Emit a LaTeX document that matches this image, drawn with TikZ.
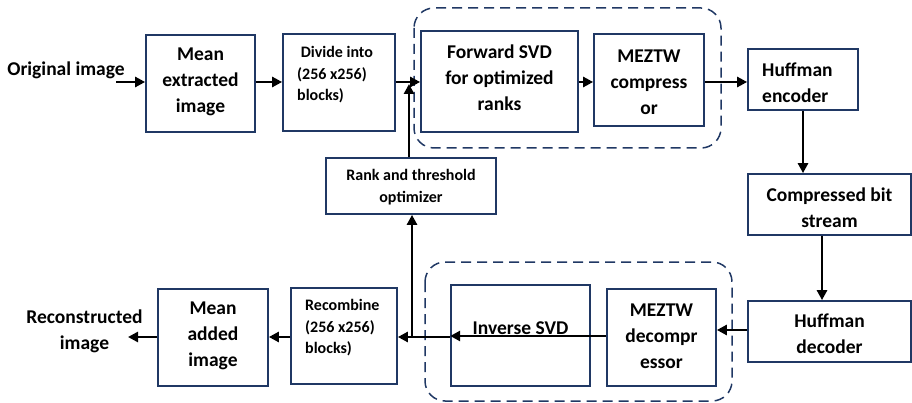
\documentclass[tikz,border=0pt]{standalone}
\usepackage{fontspec}
\setmainfont{Carlito}
\usetikzlibrary{arrows.meta}
\definecolor{navy}{HTML}{203864}
\tikzset{
  box/.style={draw=navy, line width=1.7pt, rectangle, inner sep=0pt},
  big/.style={font=\fontsize{19.5}{26}\selectfont\bfseries, align=center, inner sep=0pt},
  small/.style={font=\fontsize{16}{21.5}\selectfont\bfseries, inner sep=0pt},
  flow/.style={line width=2.8pt, -{Triangle[length=10pt,width=10pt]}},
  group/.style={draw=navy, line width=1.5pt, dash pattern=on 10pt off 6pt, rounded corners=20pt}
}
\begin{document}
\begin{tikzpicture}[x=1pt, y=-1pt]
\useasboundingbox (0,0) rectangle (912,403);

% dashed groups
\draw[group] (414,8) rectangle (721,148);
\draw[group] (425,262) rectangle (732,401);

% frames
\node[box, minimum width=109pt, minimum height=97pt] (me) at (200.5,83.5) {};
\node[box, minimum width=112pt, minimum height=97pt] (dv) at (339,82.5) {};
\node[box, minimum width=157pt, minimum height=101pt] (fs) at (499.5,81.5) {};
\node[box, minimum width=110pt, minimum height=92pt] (mz) at (649,80) {};
\node[box, minimum width=110pt, minimum height=61pt] (he) at (803,79.5) {};
\node[box, minimum width=163pt, minimum height=61pt] (cb) at (829.5,204.5) {};
\node[box, minimum width=163pt, minimum height=61pt] (hd) at (829.5,331.5) {};
\node[box, minimum width=109pt, minimum height=97pt] (md) at (661.5,337.5) {};
\node[box, minimum width=139pt, minimum height=101pt] (iv) at (520.5,335.5) {};
\node[box, minimum width=106pt, minimum height=96pt] (rc) at (344,336) {};
\node[box, minimum width=110pt, minimum height=97pt] (ma) at (213,337.5) {};
\node[box, minimum width=170pt, minimum height=56pt] (op) at (411,186) {};

% texts
\node[big] (orig) at (66,70) {Original image};
\node[big] (rec) at (84.5,331) {Reconstructed\\image};
\node[big] (me-t) at (200.5,82) {Mean\\extracted\\image};
\node[small, align=left, anchor=west] (dv-t) at (297,75) {\ Divide into\\(256 x256)\\blocks)};
\node[big] (fs-t) at (499.5,78) {Forward SVD\\for optimized\\ranks};
\node[big] (mz-t) at (649,82) {MEZTW\\compress\\or};
\node[big, align=left, anchor=west] (he-t) at (762,82.5) {Huffman\\encoder};
\node[big] (cb-t) at (829.5,207.5) {Compressed bit\\stream};
\node[big] (hd-t) at (829.5,334) {Huffman\\decoder};
\node[big] (md-t) at (661.5,336) {MEZTW\\decompr\\essor};
\node[big] (iv-t) at (520.5,328) {Inverse SVD};
\node[small, align=left, anchor=west] (rc-t) at (305,328) {Recombine\\(256 x256)\\blocks)};
\node[big] (ma-t) at (213,336) {Mean\\added\\image};
\node[small, align=center, font=\fontsize{16}{22}\selectfont\bfseries] (op-t) at (411,187) {Rank and threshold\\optimizer};

% free ends and junctions
\coordinate (in) at (116,82);
\coordinate (out) at (128,337);
\coordinate (j1) at (409,84);
\coordinate (j2) at (412,337);

% connectors
\draw[flow] (in) -- (me.west |- in);
\draw[flow] (me.east |- in) -- (dv.west |- in);
\draw[flow] (dv.east |- in) -- (fs.west |- in);
\draw[flow] (op.north -| j1) -- (j1);
\draw[flow] (fs.east |- in) -- (mz.west |- in);
\draw[flow] (mz.east |- in) -- (he.west |- in);
\draw[flow] (he.south) -- (he.south |- cb.north);
\draw[flow] ([xshift=-7.5pt]cb.south) -- ([xshift=-7.5pt]cb.south |- hd.north);
\draw[flow] (hd.west |- 0,330) -- (md.east |- 0,330);
\draw[flow] (md.west |- 0,336) -- (iv.west |- 0,336);
\draw[flow] (iv.west |- j2) -- (rc.east |- j2);
\draw[flow] (j2) -- (op.south -| j2);
\draw[flow] (rc.west |- j2) -- (ma.east |- j2);
\draw[flow] (ma.west |- j2) -- (out);
\end{tikzpicture}
\end{document}
